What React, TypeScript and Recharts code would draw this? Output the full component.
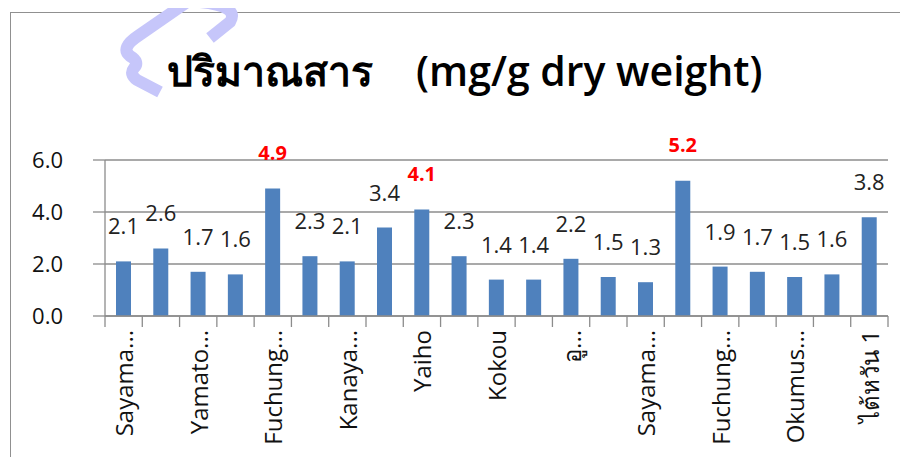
import React from "react";
import { Bar, BarChart, CartesianGrid, LabelList, XAxis, YAxis } from "recharts";

// category labels as they appear on the axis (every other one is hidden by the axis)
const categories = [
  "Sayama...",
  "Yabukita",
  "Yamato...",
  "Benifuuki",
  "Fuchung...",
  "Saemidori",
  "Kanaya...",
  "Asatsuyu",
  "Yaiho",
  "Okuhikari",
  "Kokou",
  "Tsuyuhikari",
  "อู...",
  "Sofu",
  "Sayama...",
  "Minekaori",
  "Fuchung...",
  "Harumidori",
  "Okumus...",
  "Kanayamidori",
  "ไต้หวัน 1",
];

const values = [2.1, 2.6, 1.7, 1.6, 4.9, 2.3, 2.1, 3.4, 4.1, 2.3, 1.4, 1.4, 2.2, 1.5, 1.3, 5.2, 1.9, 1.7, 1.5, 1.6, 3.8];

// bars whose value label is shown in red
const highlighted = [4, 8, 15];

const yTicks = [0, 2, 4, 6];

const data = categories.map((name, i) => ({ name, value: values[i] }));

const CHART_W = 900;
const CHART_H = 449;
const MARGIN = { top: 152, right: 20, bottom: 0, left: 0 };
const Y_AXIS_W = 97;
const PLOT_W = CHART_W - MARGIN.left - MARGIN.right - Y_AXIS_W;
const BAND = PLOT_W / categories.length;

const FONT = "'Open Sans', 'Noto Sans', sans-serif";
const GRID = "#8c8c8c";

const CategoryTick = (props: any) => {
  const { x, y, payload, index } = props;
  const i = payload?.index ?? index;
  const last = i === categories.length - 1;
  return (
    <g>
      <line x1={x - BAND / 2} x2={x - BAND / 2} y1={y} y2={y + 11} stroke={GRID} strokeWidth={1.3} />
      {last && (
        <line x1={x + BAND / 2} x2={x + BAND / 2} y1={y} y2={y + 11} stroke={GRID} strokeWidth={1.3} />
      )}
      {i % 2 === 0 && (
        <text
          transform={`translate(${x}, ${y + 14}) rotate(-90)`}
          textAnchor="end"
          dominantBaseline="central"
          fontSize={24}
          fontFamily={FONT}
          fill="#111"
        >
          {payload.value}
        </text>
      )}
    </g>
  );
};

const ValueLabel = (props: any) => {
  const { x, y, width, value, index } = props;
  const hot = highlighted.includes(index);
  return (
    <text
      x={x + width / 2}
      y={y - 36}
      textAnchor="middle"
      dominantBaseline="central"
      fontSize={hot ? 20 : 22}
      fontFamily={FONT}
      fontWeight={hot ? 700 : 400}
      fill={hot ? "#ff0000" : "#222"}
    >
      {Number(value).toFixed(1)}
    </text>
  );
};

export default function App() {
  return (
    <div style={{ position: "relative", width: CHART_W, height: CHART_H, overflow: "hidden" }}>
      {/* chart frame: only the left and top edges are visible */}
      <div
        style={{
          position: "absolute",
          left: 2,
          top: 4,
          width: 1000,
          height: 1000,
          borderLeft: "1.5px solid #909090",
          borderTop: "1.5px solid #909090",
        }}
      />
      {/* faint watermark stroke behind the title */}
      <svg width={CHART_W} height={120} style={{ position: "absolute", left: 0, top: 0 }}>
        <g fill="none" stroke="#c6c6fa" strokeWidth={12} transform="translate(-8,-8)">
          <path d="M 190 0 L 138 36 Q 120 48 130 56 Q 140 62 134 68 Q 129 74 137 80 L 160 92" />
          <path d="M 200 2 Q 240 6 230 22 L 210 38" />
        </g>
      </svg>
      <div
        style={{
          position: "absolute",
          left: 0,
          width: 914,
          top: 40,
          textAlign: "center",
          fontSize: 41,
          lineHeight: "44px",
          fontWeight: 600,
          fontFamily: FONT,
          color: "#000",
          whiteSpace: "pre",
        }}
      >
        {"ปริมาณสาร    (mg/g dry weight)"}
      </div>
      <div style={{ position: "absolute", left: 0, top: 0 }}>
        <BarChart width={CHART_W} height={CHART_H} data={data} margin={MARGIN} barCategoryGap={0}>
          <CartesianGrid vertical={false} stroke={GRID} strokeWidth={1.3} />
          <XAxis
            dataKey="name"
            interval={0}
            height={141}
            tickSize={0}
            tickMargin={0}
            tickLine={false}
            axisLine={{ stroke: GRID, strokeWidth: 1.3 }}
            tick={<CategoryTick />}
          />
          <YAxis
            domain={[0, 6]}
            ticks={yTicks}
            width={Y_AXIS_W}
            tickSize={12}
            tickMargin={30}
            tickLine={{ stroke: GRID, strokeWidth: 1.3 }}
            axisLine={{ stroke: GRID, strokeWidth: 1.3 }}
            tickFormatter={(v: number) => v.toFixed(1)}
            tick={{ fontSize: 22, fontFamily: FONT, fill: "#111" }}
          />
          <Bar dataKey="value" fill="#4f81bd" barSize={15} isAnimationActive={false}>
            <LabelList dataKey="value" content={<ValueLabel />} />
          </Bar>
        </BarChart>
      </div>
    </div>
  );
}
